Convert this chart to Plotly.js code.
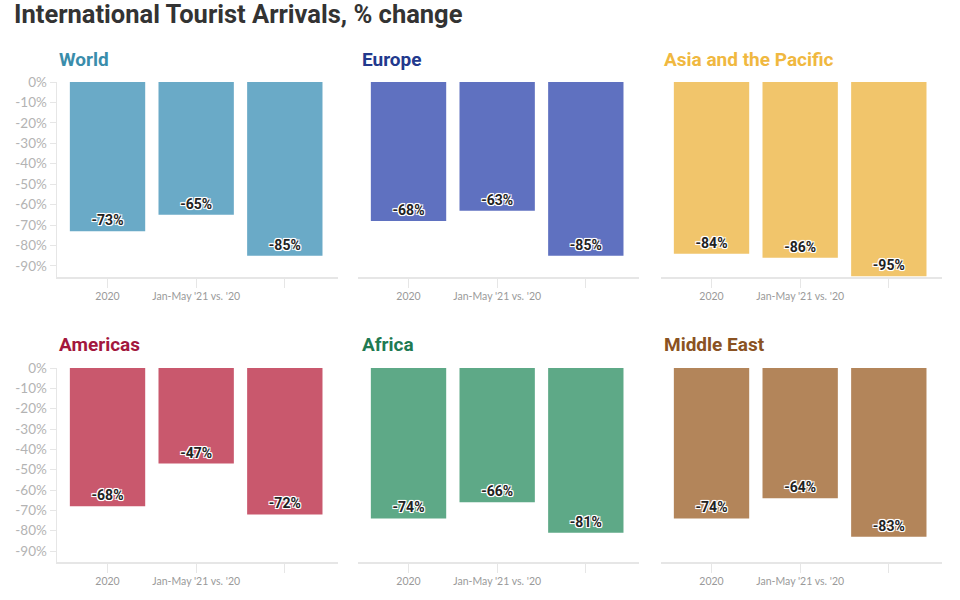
<!DOCTYPE html>
<html>
<head>
<meta charset="utf-8">
<script src="https://cdn.plot.ly/plotly-3.0.1.min.js"></script>
<style>
html,body{margin:0;padding:0;background:#fff;}
#chart{width:960px;height:600px;}
</style>
</head>
<body>
<div id="chart"></div>
<script>
// Data
const categories = ["2020", "Jan-May '21 vs. '20", "Jan-May '21 vs. '19"];
const tickLabels = ["2020", "Jan-May '21 vs. '20", ""];
const regions = ["World", "Europe", "Asia and the Pacific", "Americas", "Africa", "Middle East"];
const world = [-73, -65, -85];
const europe = [-68, -63, -85];
const asiaPacific = [-84, -86, -95];
const americas = [-68, -47, -72];
const africa = [-74, -66, -81];
const middleEast = [-74, -64, -83];
const yTickVals = [0, -10, -20, -30, -40, -50, -60, -70, -80, -90];
const yTickText = ["0%", "-10%", "-20%", "-30%", "-40%", "-50%", "-60%", "-70%", "-80%", "-90%"];

const series = [world, europe, asiaPacific, americas, africa, middleEast];
const barColors = ["#6aaac7", "#5f71c0", "#f1c56b", "#c9586d", "#5ea987", "#b3855a"];
const titleColors = ["#3a8dab", "#22398d", "#f0b840", "#a3173d", "#1f7a52", "#8a5222"];

const W = 960, H = 600;
const colPx = [[57, 338], [358, 639], [661, 942]];
const rowPx = [[82, 277], [368, 562]];
const titleX = [57, 360, 662];
const titleY = [59, 344];

const FONT = "Lato, 'Source Sans Pro', 'Open Sans', sans-serif";
const BOLD = "Roboto, 'Open Sans', sans-serif";
const xPos = categories.map((c, i) => i);

const data = [];
const layout = {
  width: W, height: H,
  margin: {l: 0, r: 0, t: 0, b: 0},
  paper_bgcolor: "#fff",
  plot_bgcolor: "#fff",
  showlegend: false,
  font: {family: FONT},
  annotations: [{
    text: "International Tourist Arrivals, % change",
    xref: "paper", yref: "paper",
    x: 12 / W, y: 1 - 14 / H,
    xanchor: "left", yanchor: "middle",
    showarrow: false,
    font: {size: 25.5, color: "#333333", family: BOLD, weight: 700}
  }]
};

series.forEach((vals, k) => {
  const r = Math.floor(k / 3), c = k % 3;
  const n = k + 1;
  const xa = "x" + (n === 1 ? "" : n);
  const ya = "y" + (n === 1 ? "" : n);
  data.push({
    type: "bar",
    x: xPos,
    y: vals,
    xaxis: xa, yaxis: ya,
    width: 0.85,
    marker: {color: barColors[k]},
    text: vals.map(v => v + "%"),
    textposition: "inside",
    insidetextanchor: "end",
    textangle: 0,
    constraintext: "none",
    insidetextfont: {
      size: 14, color: "#222222", family: BOLD, weight: 700,
      shadow: "1px 1px 0 #fff, -1px -1px 0 #fff, 1px -1px 0 #fff, -1px 1px 0 #fff, 0 1px 1px #fff, 0 -1px 1px #fff"
    },
    hoverinfo: "skip"
  });
  const xKey = "xaxis" + (n === 1 ? "" : n);
  const yKey = "yaxis" + (n === 1 ? "" : n);
  layout[xKey] = {
    domain: [colPx[c][0] / W, colPx[c][1] / W],
    anchor: ya,
    range: [-0.57, 2.6],
    tickmode: "array",
    tickvals: xPos,
    ticktext: tickLabels,
    ticks: "outside", ticklen: 9, tickcolor: "#e6e6e6", tickwidth: 1,
    showline: true, linecolor: "#e6e6e6", linewidth: 1.5,
    showgrid: false, zeroline: false,
    tickfont: {size: 10.5, color: "#9a9a9a", family: FONT},
    fixedrange: true
  };
  layout[yKey] = {
    domain: [1 - rowPx[r][1] / H, 1 - rowPx[r][0] / H],
    anchor: xa,
    range: [-95.4, 0],
    tickmode: "array",
    tickvals: yTickVals,
    ticktext: yTickText,
    showticklabels: c === 0,
    ticks: c === 0 ? "outside" : "",
    ticklen: 6, tickcolor: "#e6e6e6",
    showline: c === 0, linecolor: "#e6e6e6", linewidth: 1.5,
    showgrid: false, zeroline: false,
    tickfont: {size: 13.5, color: "#b3b3b3", family: FONT},
    fixedrange: true
  };
  layout.annotations.push({
    text: regions[k],
    xref: "paper", yref: "paper",
    x: titleX[c] / W, y: 1 - titleY[r] / H,
    xanchor: "left", yanchor: "middle",
    showarrow: false,
    font: {size: 19, color: titleColors[k], family: BOLD, weight: 700}
  });
});

Plotly.newPlot("chart", data, layout, {displayModeBar: false, staticPlot: true});
</script>
</body>
</html>
